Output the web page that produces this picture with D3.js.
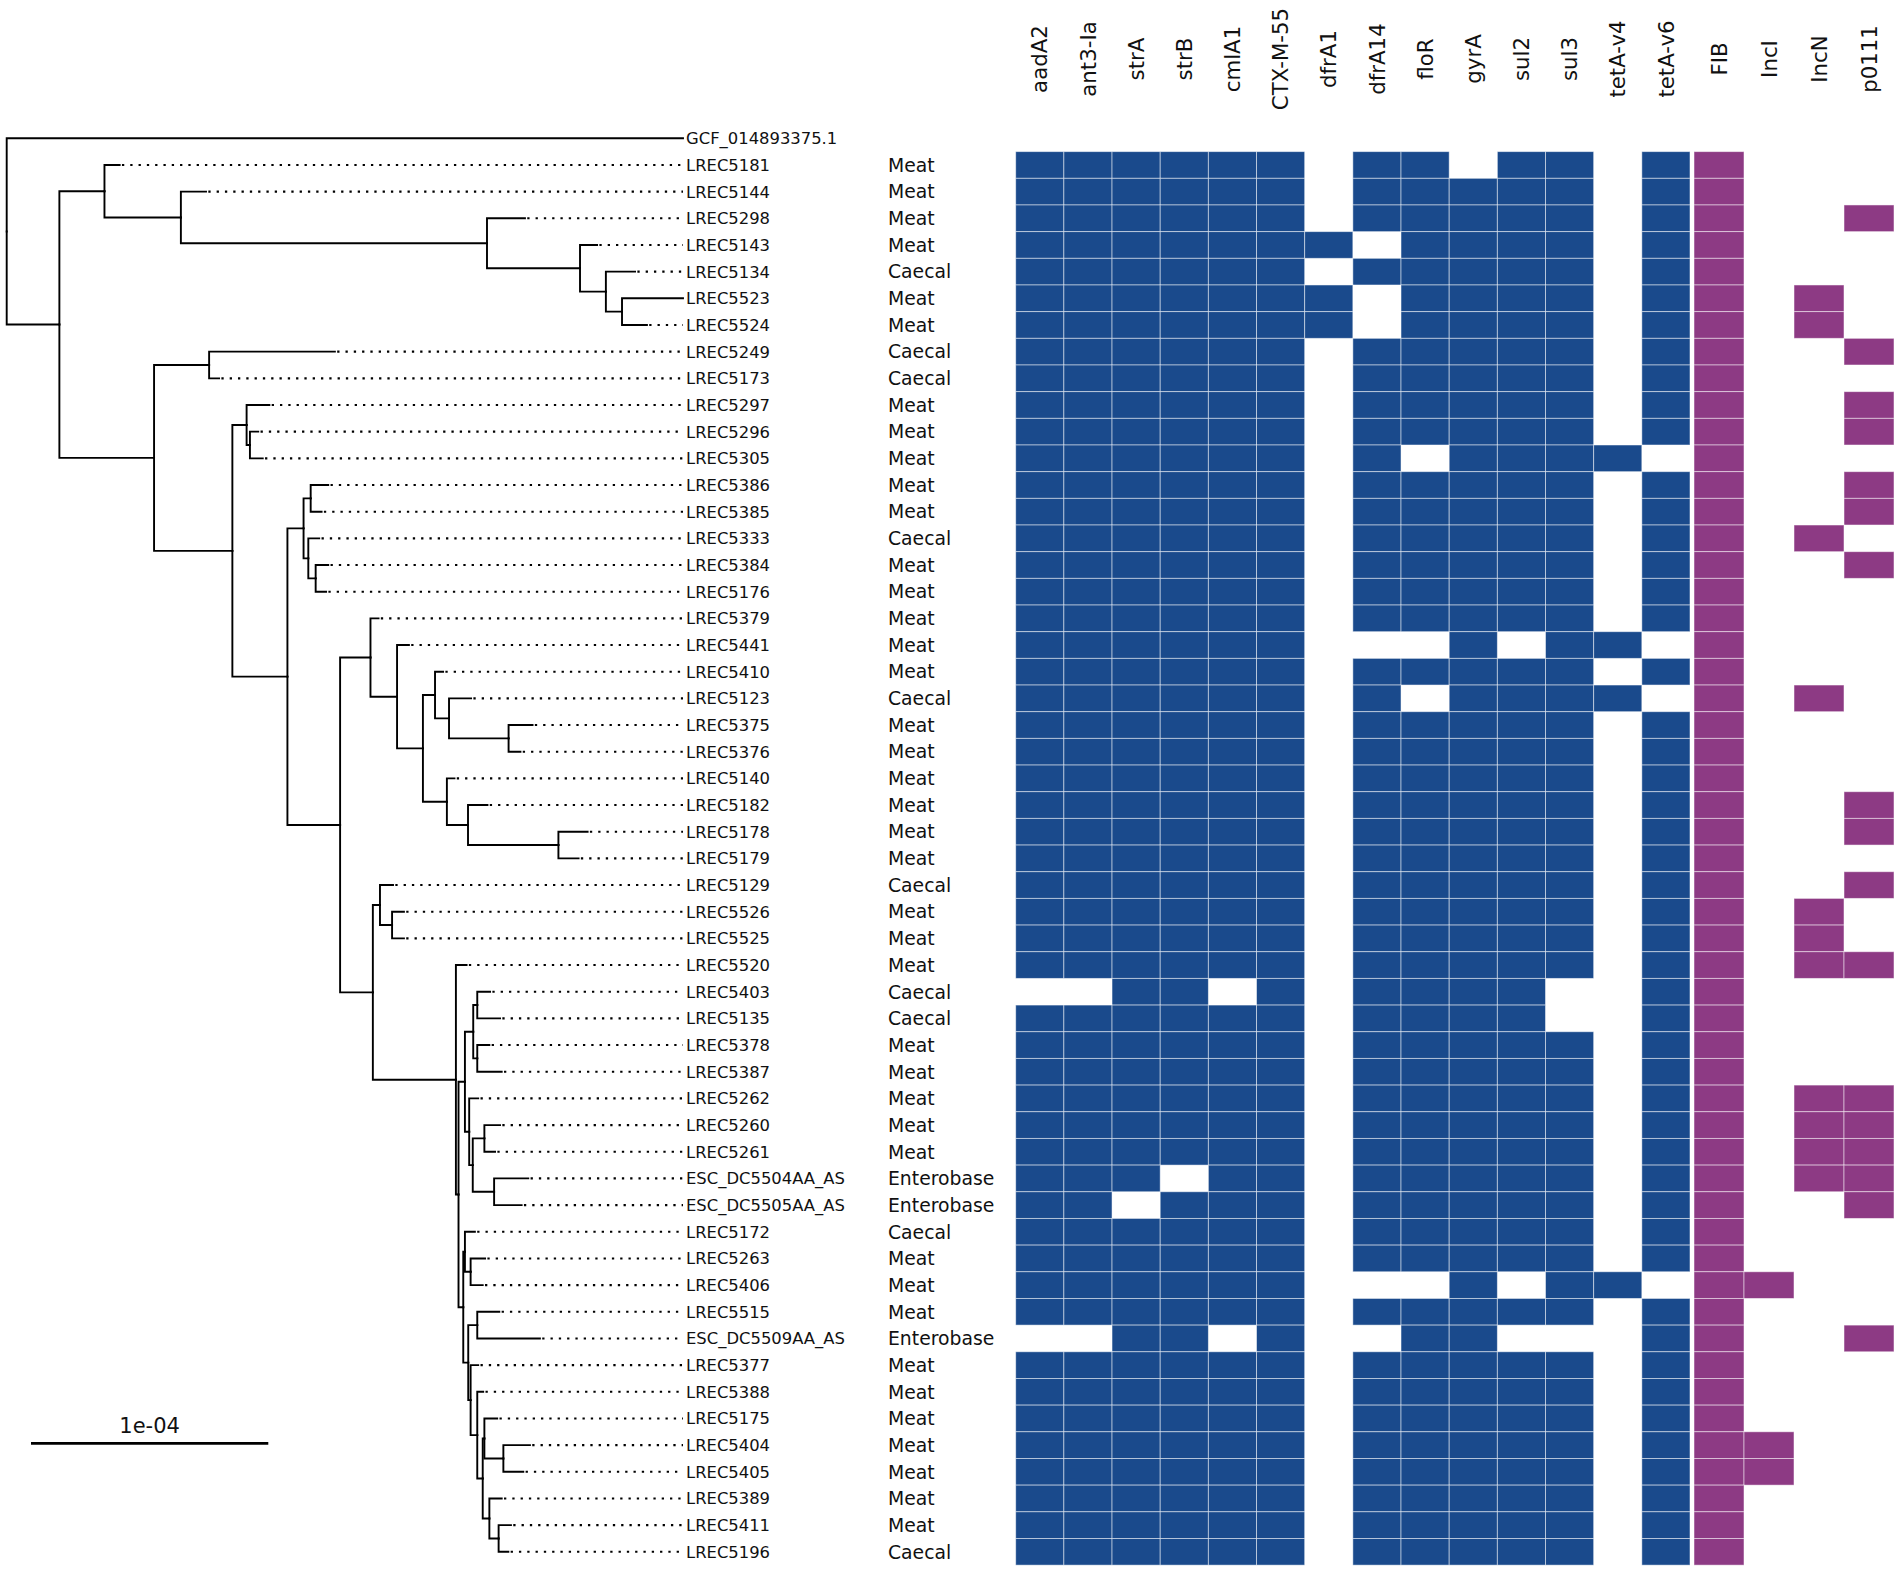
<!DOCTYPE html>
<html>
<head>
<meta charset="utf-8">
<script src="https://cdn.jsdelivr.net/npm/d3@7"></script>
<style>
  body { margin: 0; background: #fff; }
  text { font-family: "DejaVu Sans", sans-serif; fill: #111; }
</style>
</head>
<body>
<svg width="1902" height="1570"></svg>
<script>
// branch lengths in the newick strings are in units of 1e-6 substitutions/site
const lengthUnit = 1e-6;
const scaleBarValue = 1e-4;

const cladeUpper = "(LREC5181:6.4,(LREC5144:10.6,(LREC5298:16.0,(LREC5143:7.2,(LREC5134:12.3,(LREC5523:25.7,LREC5524:10.5):6.8):10.9):39.2):129.0):32.2)";
const cladeK = "(LREC5297:9.6,(LREC5296:3.5,LREC5305:5.4):1.4)";
const cladeN = "((LREC5386:7.4,LREC5385:4.6):3.0,(LREC5333:4.6,(LREC5384:5.3,LREC5176:4.4):3.1):2.0)";
const cladeS = "(LREC5379:3.4,(LREC5441:5.0,((LREC5410:3.4,(LREC5123:9.3,(LREC5375:10.1,LREC5376:5.0):25.1):5.9):5.1,(LREC5140:3.2,(LREC5182:8.2,(LREC5178:12.3,LREC5179:8.5):38.1):8.9):10.1):10.9):11.2)";
const cladeAG = "(((LREC5403:5.4,LREC5135:9.6):1.7,(LREC5378:5.1,LREC5387:10.3):1.7):3.5,(LREC5262:3.8,((LREC5260:6.6,LREC5261:4.5):4.9,(ESC_DC5504AA_AS:14.4,ESC_DC5505AA_AS:11.6):9.0):1.5):1.8)";
const cladeAK = "(LREC5388:2.5,((LREC5175:5.4,(LREC5404:11.2,LREC5405:8.4):8.0):0.7,(LREC5389:5.2,(LREC5411:5.2,LREC5196:4.1):3.9):2.8):2.3)";
const cladeAH = "((LREC5172:4.2,(LREC5263:6.1,LREC5406:5.1):2.4):0.7,((LREC5515:9.3,ESC_DC5509AA_AS:26.4):3.8,(LREC5377:3.2," + cladeAK + ":2.8):1.0):2.1)";
const cladeT = "((LREC5129:5.5,(LREC5526:5.0,LREC5525:5.0):5.1):3.0,(LREC5520:4.5,(" + cladeAG + ":2.7," + cladeAH + ":2.0):1.1):35.0)";
const cladeH = "((LREC5249:53.0,LREC5173:4.2):23.2,(" + cladeK + ":6.0,(" + cladeN + ":6.8,(" + cladeS + ":12.8," + cladeT + ":13.8):22.2):23.2):33.0)";
const newick = "(GCF_014893375.1:285.0,(" + cladeUpper + ":19.0," + cladeH + ":39.9):22.2);";

const genes = ["aadA2", "ant3-Ia", "strA", "strB", "cmlA1", "CTX-M-55", "dfrA1", "dfrA14", "floR", "gyrA", "sul2", "sul3", "tetA-v4", "tetA-v6"];
const plasmids = ["FIB", "IncI", "IncN", "p0111"];

const isolates = ["LREC5181", "LREC5144", "LREC5298", "LREC5143", "LREC5134", "LREC5523", "LREC5524", "LREC5249", "LREC5173", "LREC5297",
  "LREC5296", "LREC5305", "LREC5386", "LREC5385", "LREC5333", "LREC5384", "LREC5176", "LREC5379", "LREC5441", "LREC5410",
  "LREC5123", "LREC5375", "LREC5376", "LREC5140", "LREC5182", "LREC5178", "LREC5179", "LREC5129", "LREC5526", "LREC5525",
  "LREC5520", "LREC5403", "LREC5135", "LREC5378", "LREC5387", "LREC5262", "LREC5260", "LREC5261", "ESC_DC5504AA_AS", "ESC_DC5505AA_AS",
  "LREC5172", "LREC5263", "LREC5406", "LREC5515", "ESC_DC5509AA_AS", "LREC5377", "LREC5388", "LREC5175", "LREC5404", "LREC5405",
  "LREC5389", "LREC5411", "LREC5196"];

const sources = ["Meat", "Meat", "Meat", "Meat", "Caecal", "Meat", "Meat", "Caecal", "Caecal", "Meat",
  "Meat", "Meat", "Meat", "Meat", "Caecal", "Meat", "Meat", "Meat", "Meat", "Meat",
  "Caecal", "Meat", "Meat", "Meat", "Meat", "Meat", "Meat", "Caecal", "Meat", "Meat",
  "Meat", "Caecal", "Caecal", "Meat", "Meat", "Meat", "Meat", "Meat", "Enterobase", "Enterobase",
  "Caecal", "Meat", "Meat", "Meat", "Enterobase", "Meat", "Meat", "Meat", "Meat", "Meat",
  "Meat", "Meat", "Caecal"];

// one character per gene column, 1 = present
const genePresence = ["11111101101101", "11111101111101", "11111101111101", "11111110111101", "11111101111101",
  "11111110111101", "11111110111101", "11111101111101", "11111101111101", "11111101111101",
  "11111101111101", "11111101011110", "11111101111101", "11111101111101", "11111101111101",
  "11111101111101", "11111101111101", "11111101111101", "11111100010110", "11111101111101",
  "11111101011110", "11111101111101", "11111101111101", "11111101111101", "11111101111101",
  "11111101111101", "11111101111101", "11111101111101", "11111101111101", "11111101111101",
  "11111101111101", "00110101111001", "11111101111001", "11111101111101", "11111101111101",
  "11111101111101", "11111101111101", "11111101111101", "11101101111101", "11011101111101",
  "11111101111101", "11111101111101", "11111100010110", "11111101111101", "00110100110001",
  "11111101111101", "11111101111101", "11111101111101", "11111101111101", "11111101111101",
  "11111101111101", "11111101111101", "11111101111101"];

const plasmidPresence = ["1000", "1000", "1001", "1000", "1000", "1010", "1010", "1001", "1000", "1001",
  "1001", "1000", "1001", "1001", "1010", "1001", "1000", "1000", "1000", "1000",
  "1010", "1000", "1000", "1000", "1001", "1001", "1000", "1001", "1010", "1010",
  "1011", "1000", "1000", "1000", "1000", "1011", "1011", "1011", "1011", "1001",
  "1000", "1000", "1100", "1000", "1001", "1000", "1000", "1000", "1100", "1100",
  "1000", "1000", "1000"];

const geneColor = "#1a4a8c";
const plasmidColor = "#8d3a84";

// ---- newick parsing ----
function parseNewick(s) {
  let i = 0;
  function readNode() {
    const n = { children: [] };
    if (s[i] === '(') {
      i++;
      n.children.push(readNode());
      while (s[i] === ',') { i++; n.children.push(readNode()); }
      i++; // ')'
    }
    let name = '';
    while (i < s.length && !',():;'.includes(s[i])) name += s[i++];
    n.name = name;
    if (s[i] === ':') {
      i++;
      let l = '';
      while (i < s.length && !',();'.includes(s[i])) l += s[i++];
      n.length = +l;
    }
    return n;
  }
  return readNode();
}

const root = d3.hierarchy(parseNewick(newick), d => d.children.length ? d.children : null);
root.eachBefore(d => { d.dist = (d.parent ? d.parent.dist : 0) + (d.parent ? d.data.length : 0); });
const tips = root.leaves();
tips.forEach((d, k) => d.row = k);

const maxDist = d3.max(tips, d => d.dist);
const x = d3.scaleLinear().domain([0, maxDist]).range([6.7, 683]);
const y = d3.scaleLinear().domain([0, tips.length - 1]).range([138.3, 1551.8]);
const rowH = y(1) - y(0);

root.eachAfter(d => {
  if (d.children) d.y = (d.children[0].y + d.children[d.children.length - 1].y) / 2;
  else d.y = y(d.row);
});

const svg = d3.select('svg');

// ---- tree ----
const gTree = svg.append('g').attr('class', 'tree');

gTree.selectAll('path.branch')
  .data(root.descendants().filter(d => d.parent))
  .join('path')
  .attr('class', 'branch')
  .attr('d', d => `M${x(d.parent.dist)},${d.parent.y}V${d.y}H${x(d.dist)}`)
  .attr('fill', 'none')
  .attr('stroke', 'black')
  .attr('stroke-width', 1.9)
  .attr('stroke-linecap', 'square');

gTree.selectAll('line.align')
  .data(tips.filter(d => x(maxDist) - x(d.dist) > 3))
  .join('line')
  .attr('class', 'align')
  .attr('x1', d => x(d.dist))
  .attr('x2', x(maxDist))
  .attr('y1', d => d.y)
  .attr('y2', d => d.y)
  .attr('stroke', 'black')
  .attr('stroke-width', 2.1)
  .attr('stroke-dasharray', '2.3 6')
  .attr('stroke-dashoffset', 6);

gTree.selectAll('text.tip')
  .data(tips)
  .join('text')
  .attr('class', 'tip')
  .attr('x', x(maxDist) + 3)
  .attr('y', d => d.y)
  .attr('dy', '0.36em')
  .style('font-size', '16.4px')
  .text(d => d.data.name);

// ---- source labels ----
const rowOf = new Map(tips.map(d => [d.data.name, d]));
svg.append('g').selectAll('text')
  .data(isolates)
  .join('text')
  .attr('x', 888)
  .attr('y', (name) => rowOf.get(name).y)
  .attr('dy', '0.36em')
  .style('font-size', '18.8px')
  .text((name, i) => sources[i]);

// ---- heatmaps ----
const geneX = d3.scaleBand().domain(genes).range([1015.7, 1690]);
const plasmidX = d3.scaleBand().domain(plasmids).range([1694, 1894]);

function drawHeat(cls, cols, xScale, matrix, color) {
  const cells = [];
  isolates.forEach((name, i) => {
    cols.forEach((c, j) => {
      if (matrix[i][j] === '1') cells.push({ name: name, col: c });
    });
  });
  svg.append('g').attr('class', cls).selectAll('rect')
    .data(cells)
    .join('rect')
    .attr('x', d => xScale(d.col))
    .attr('y', d => rowOf.get(d.name).y - rowH / 2)
    .attr('width', xScale.bandwidth())
    .attr('height', rowH)
    .attr('fill', color)
    .attr('stroke', 'white')
    .attr('stroke-opacity', 0.55)
    .attr('stroke-width', 0.9);

  svg.append('g').selectAll('text')
    .data(cols)
    .join('text')
    .attr('transform', d => `translate(${xScale(d) + xScale.bandwidth() / 2}, 59) rotate(-90)`)
    .attr('text-anchor', 'middle')
    .attr('dy', '0.36em')
    .style('font-size', '21.3px')
    .text(d => d);
}

drawHeat('genes', genes, geneX, genePresence, geneColor);
drawHeat('plasmids', plasmids, plasmidX, plasmidPresence, plasmidColor);

// ---- scale bar ----
const barStart = 31;
const barLen = x(scaleBarValue / lengthUnit) - x(0);
svg.append('line')
  .attr('x1', barStart)
  .attr('x2', barStart + barLen)
  .attr('y1', 1443.3)
  .attr('y2', 1443.3)
  .attr('stroke', 'black')
  .attr('stroke-width', 2.7);
svg.append('text')
  .attr('x', barStart + barLen / 2)
  .attr('y', 1433)
  .attr('text-anchor', 'middle')
  .style('font-size', '21px')
  .text('1e-04');
</script>
</body>
</html>
